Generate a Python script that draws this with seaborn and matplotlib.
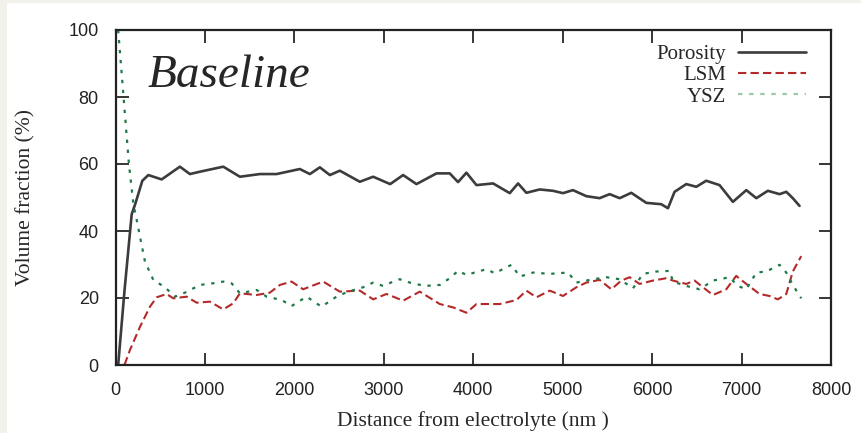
import pandas as pd
import matplotlib
matplotlib.use('Agg')
import matplotlib.pyplot as plt
from matplotlib.patches import Rectangle
import seaborn as sns

# valores (distancia en nm, fraccion en %)
poro_x = [30, 100, 181, 220, 300, 367, 516, 720, 832, 944, 1205, 1391, 1615, 1801, 2061, 2173, 2285, 2397, 2508, 2732,
          2881, 3071, 3216, 3365, 3589, 3737, 3830, 3924, 4036, 4222, 4408, 4501, 4594, 4743, 4892, 5003, 5115, 5264,
          5413, 5525, 5637, 5767, 5935, 6102, 6177, 6251, 6382, 6494, 6605, 6754, 6903, 7053, 7165, 7294, 7425, 7500,
          7573, 7648]
poro_y = [0, 22, 45, 48, 55, 56.7, 55.4, 59.2, 57, 57.7, 59.2, 56.2, 57, 57, 58.5, 57, 59, 56.7, 58, 54.7,
          56.2, 54, 56.7, 54, 57.2, 57.2, 54.6, 57.4, 53.7, 54.2, 51.3, 54.2, 51.4, 52.4, 52, 51.3, 52.2, 50.4,
          49.8, 51, 49.8, 51.4, 48.4, 48, 46.8, 51.7, 54, 53.2, 55, 53.7, 48.7, 52.2, 49.8, 52, 51, 51.7,
          49.8, 47.5]

lsm_x = [100, 162, 274, 385, 460, 572, 646, 795, 907, 1056, 1205, 1316, 1391, 1578, 1726, 1838, 1969, 2098, 2322, 2508,
         2732, 2881, 3030, 3216, 3402, 3626, 3775, 3924, 4036, 4296, 4483, 4594, 4706, 4855, 5003, 5153, 5264, 5413,
         5544, 5656, 5749, 5860, 6009, 6158, 6233, 6382, 6475, 6568, 6680, 6829, 6940, 7053, 7201, 7313, 7406, 7500,
         7573, 7667]
lsm_y = [0, 4.5, 11.4, 17.4, 20.2, 21.2, 19.9, 20.4, 18.6, 18.9, 16.6, 18.4, 21.4, 20.9, 21.6, 23.9, 24.9, 22.6, 24.9, 21.9,
         22.2, 19.6, 21.2, 19.2, 21.9, 18.2, 17.2, 15.6, 18.2, 18.2, 19.4, 22.2, 20.2, 22.2, 20.6, 23.2, 24.6, 25.4,
         22.6, 25.2, 26.2, 24.2, 25.2, 25.9, 25.2, 24.2, 25.2, 23.2, 20.9, 22.6, 26.6, 24.2, 21.2, 20.6, 19.6, 21.2,
         27.9, 32.5]

ysz_x = [30, 90, 150, 200, 237, 274, 330, 423, 553, 665, 777, 944, 1093, 1205, 1298, 1391, 1578, 1689, 1857, 1969,
         2136, 2304, 2471, 2601, 2769, 2881, 2992, 3104, 3179, 3291, 3458, 3626, 3737, 3830, 3924, 4147, 4240, 4427,
         4520, 4669, 4855, 5059, 5153, 5302, 5488, 5637, 5786, 5898, 6047, 6196, 6233, 6382, 6531, 6680, 6866, 6959,
         7053, 7165, 7276, 7425, 7500, 7573, 7667]
ysz_y = [100, 80, 60, 48, 43.3, 38.3, 30.8, 25.4, 23.2, 20.4, 21.6, 23.9, 24.4, 24.9, 24.4, 21.4, 22.4, 20.4, 19.4, 17.6,
         20.4, 17.4, 20.4, 21.9, 23.2, 24.6, 23.6, 24.9, 25.6, 24.6, 23.6, 23.9, 25.9, 28.1, 26.9, 28.6, 27.4, 29.9,
         26.4, 27.6, 27.2, 27.6, 24.6, 25.4, 26.2, 25.6, 22.9, 27.2, 27.9, 28.1, 24.9, 23.6, 22.6, 25.2, 26.2, 23.6,
         22.6, 27.6, 27.9, 29.9, 27.6, 23.9, 19.9]

x_ticks = [0, 1000, 2000, 3000, 4000, 5000, 6000, 7000, 8000]
y_ticks = [0, 20, 40, 60, 80, 100]

sns.set_style('ticks')
plt.rcParams['font.family'] = ['Liberation Serif', 'DejaVu Serif']

fig = plt.figure(figsize=(8.61, 4.33), dpi=100)
fig.patch.set_facecolor('#f3f2ea')
fig.patches.append(Rectangle((7 / 861, 0), 1, (433 - 3) / 433, transform=fig.transFigure,
                             facecolor='white', edgecolor='none', zorder=-10))
ax = fig.add_axes([115.5 / 861, (433 - 365) / 433, (831 - 115.5) / 861, (365 - 30) / 433])
ax.set_facecolor('white')

df_poro = pd.DataFrame({'x': poro_x, 'y': poro_y})
df_lsm = pd.DataFrame({'x': lsm_x, 'y': lsm_y})
df_ysz = pd.DataFrame({'x': ysz_x, 'y': ysz_y})

sns.lineplot(data=df_poro, x='x', y='y', ax=ax, color='#3c3c3c', lw=1.9, sort=False, label='Porosity')
sns.lineplot(data=df_lsm, x='x', y='y', ax=ax, color='#b42a2a', lw=1.5, sort=False, label='LSM')
sns.lineplot(data=df_ysz, x='x', y='y', ax=ax, color='#1f7a48', lw=1.6, sort=False, label='YSZ')
ax.lines[1].set_dashes([4, 2])
ax.lines[2].set_dashes([1.5, 3])

ax.set_xlim(0, 8000)
ax.set_ylim(0, 100)
ax.set_xticks(x_ticks)
ax.set_yticks(y_ticks)
ax.tick_params(direction='in', length=9, width=1.3, top=True, right=True, pad=12, labelcolor='#222222')
for lab in ax.get_xticklabels() + ax.get_yticklabels():
    lab.set_family(['Liberation Sans Narrow', 'Liberation Sans'])
    lab.set_fontsize(13)
for s in ax.spines.values():
    s.set_linewidth(1.6)
    s.set_color('#222222')

ax.set_xlabel('Distance from electrolyte (nm )', fontsize=15.5, labelpad=9)
ax.set_ylabel('Volume fraction (%)', fontsize=15.5, labelpad=24)

ax.text(0.045, 0.862, 'Baseline', transform=ax.transAxes, fontsize=34, style='italic', va='center', ha='left')

leg = ax.legend(loc='upper right', bbox_to_anchor=(0.986, 1.0), frameon=False, markerfirst=False, fontsize=15,
                handlelength=3.3, labelspacing=0.08, borderaxespad=0.3, handletextpad=0.55)
leg.get_lines()[2].set_color('#9cc9a4')
leg.get_lines()[2].set_dashes([2, 3])

fig.savefig('out.png', dpi=100, facecolor=fig.get_facecolor())
